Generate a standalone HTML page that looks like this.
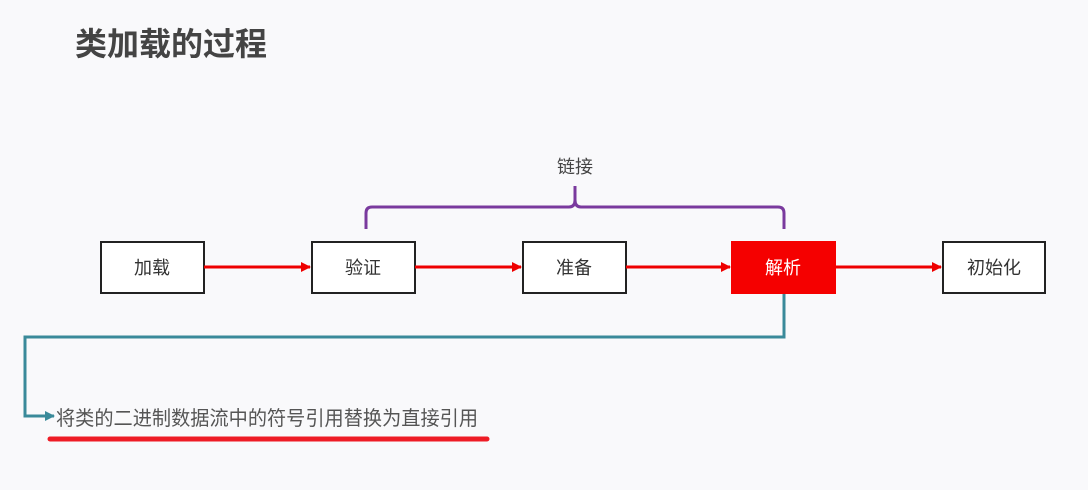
<!DOCTYPE html>
<html><head><meta charset="utf-8"><style>
html,body{margin:0;padding:0;background:#f9f9fb;}
body{width:1088px;height:490px;position:relative;overflow:hidden;font-family:"Liberation Sans","Noto Sans CJK SC",sans-serif;}
.t{position:absolute;white-space:nowrap;}
</style></head><body>
<div class="t" style="left:75px;top:25px;font-size:32px;font-weight:bold;color:#444;line-height:38px;">类加载的过程</div>
<svg width="1088" height="490" style="position:absolute;left:0;top:0">
<defs>
<marker id="ar" markerWidth="10" markerHeight="10" refX="9" refY="5" orient="auto" markerUnits="userSpaceOnUse"><path d="M0,0 L10,5 L0,10 z" fill="#e00"/></marker>
<marker id="at" markerWidth="10" markerHeight="10" refX="9" refY="5" orient="auto" markerUnits="userSpaceOnUse"><path d="M0,0 L10,5 L0,10 z" fill="#3a8a9a"/></marker>
</defs>
<g fill="#fff" stroke="#222" stroke-width="2">
<rect x="101" y="242" width="103" height="51"/>
<rect x="312" y="242" width="103" height="51"/>
<rect x="523" y="242" width="103" height="51"/>
<rect x="943" y="242" width="102" height="51"/>
</g>
<rect x="731" y="241" width="105" height="53" fill="#f50000"/>
<g stroke="#e00" stroke-width="3" fill="none">
<line x1="204" y1="267" x2="310" y2="267" marker-end="url(#ar)"/>
<line x1="415" y1="267" x2="521" y2="267" marker-end="url(#ar)"/>
<line x1="626" y1="267" x2="730" y2="267" marker-end="url(#ar)"/>
<line x1="836" y1="267" x2="941" y2="267" marker-end="url(#ar)"/>
</g>
<path d="M366,229 V213 Q366,207 372,207 H569 Q575,207 575,200 V186 V200 Q575,207 581,207 H778 Q784,207 784,213 V229" stroke="#7a3a9e" stroke-width="3" fill="none"/>
<path d="M784,294 V337 H25 V416 H54" stroke="#3a8a9a" stroke-width="3" fill="none" marker-end="url(#at)"/>
<line x1="50" y1="439" x2="487" y2="439" stroke="#ee1c25" stroke-width="5" stroke-linecap="round"/>
<g font-family="Liberation Sans, Noto Sans CJK SC, sans-serif" font-size="18" fill="#333" text-anchor="middle">
<text x="152" y="274">加载</text>
<text x="363" y="274">验证</text>
<text x="574" y="274">准备</text>
<text x="783" y="274" fill="#fff">解析</text>
<text x="994" y="274">初始化</text>
<text x="575" y="173" fill="#444">链接</text>
</g>
<text x="56" y="425" textLength="422" lengthAdjust="spacingAndGlyphs" font-family="Liberation Sans, Noto Sans CJK SC, sans-serif" font-size="20" fill="#555">将类的二进制数据流中的符号引用替换为直接引用</text>
</svg>
</body></html>
